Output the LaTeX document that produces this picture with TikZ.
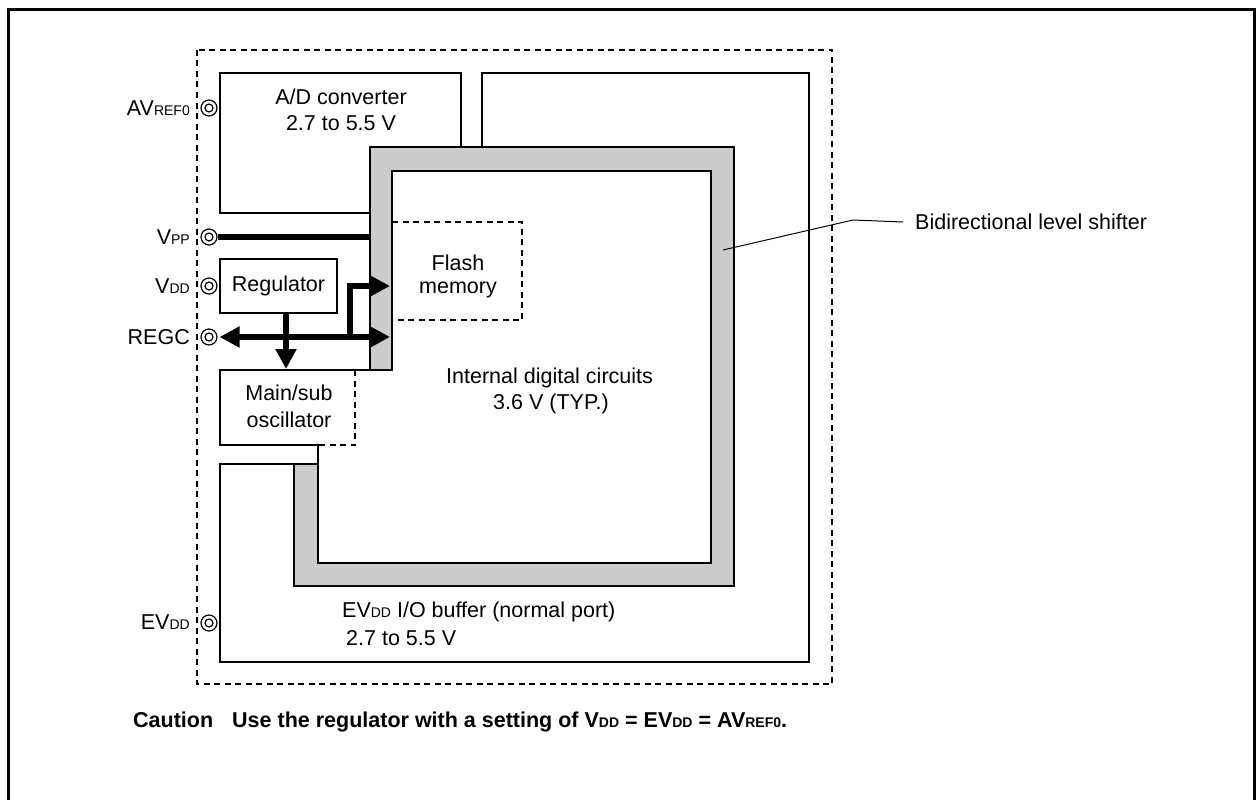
\documentclass[tikz,border=0pt]{standalone}
\usepackage{fontspec}
\setmainfont{Liberation Sans}
\usetikzlibrary{arrows.meta}
\newcommand\sbs[1]{{\fontsize{14}{14}\selectfont #1}}
\definecolor{shiftgray}{HTML}{CCCCCC}
\begin{document}
\begin{tikzpicture}[x=1pt,y=-1pt,
  box/.style={line width=2.6pt,line join=miter},
  dbox/.style={line width=2.6pt,dash pattern=on 6pt off 4.5pt},
  txt/.style={inner sep=0pt,font=\fontsize{21.5}{25}\selectfont},
  pinnode/.style={circle,draw,line width=1.2pt,minimum size=16pt,inner sep=0pt,
     path picture={\draw[line width=1.2pt] (path picture bounding box.center) circle (4pt);}},
  thick line/.style={line width=6pt},
  bigtip/.style={-{Triangle[length=20pt,width=20pt]}},
  bigtips/.style={{Triangle[length=20pt,width=20pt]}-{Triangle[length=20pt,width=20pt]}}
]
\useasboundingbox (0,0) rectangle (1256,800);
% outer frame
\draw[line width=2.6pt] (8.5,830) -- (8.5,9.5) -- (1254.5,9.5) -- (1254.5,830);
% dashed chip boundary
\draw[dbox] (197,50) rectangle (832,684);
% A/D converter
\draw[box] (370,213) -- (220,213) -- (220,73) -- (461,73) -- (461,147);
% I/O buffer outline
\draw[box] (482,147) -- (482,73) -- (809,73) -- (809,662) -- (220,662) -- (220,464) -- (318,464);
% bidirectional level shifter (gray)
\draw[box,fill=shiftgray] (370,370) -- (370,147) -- (734,147) -- (734,586) -- (294,586) -- (294,464)
  -- (318,464) -- (318,563) -- (711,563) -- (711,171) -- (392,171) -- (392,370) -- cycle;
% oscillator
\draw[box] (318,464) -- (318,445) -- (220,445) -- (220,370) -- (370,370);
\draw[dbox] (355,370) -- (355,445) -- (318,445);
% flash memory
\draw[dbox] (392,222) -- (522,222) -- (522,320) -- (392,320);
% regulator
\node[draw,box,minimum width=117pt,minimum height=54pt,inner sep=0pt,
  font=\fontsize{21.5}{25}\selectfont] (reg) at (278.5,286) {Regulator};
% pins
\node[pinnode] (pav) at (209,108) {};
\node[pinnode] (pvpp) at (209,237) {};
\node[pinnode] (pvdd) at (209,286) {};
\node[pinnode] (pregc) at (209,337) {};
\node[pinnode] (pevdd) at (209,623) {};
\node[txt,anchor=east] (lav) at (190,108) {AV\sbs{REF0}};
\node[txt,anchor=east] (lvpp) at (190,237) {V\sbs{PP}};
\node[txt,anchor=east] (lvdd) at (190,286) {V\sbs{DD}};
\node[txt,anchor=east] (lregc) at (190,337) {REGC};
\node[txt,anchor=east] (levdd) at (190,622) {EV\sbs{DD}};
% coordinates for connectors
\coordinate (vppend) at (370,237);
\coordinate (regcend) at (390,337);
\coordinate (flashin) at (390,286);
\coordinate (branch) at (350,337);
\coordinate (regout) at (286,313);
\coordinate (oscin) at (286,369);
% connectors
\draw[thick line] (pvpp.east) -- (vppend);
\draw[thick line,bigtips] ([xshift=2pt]pregc.east) -- (regcend);
\draw[thick line,bigtip] (branch) -- (branch |- flashin) -- (flashin);
\draw[thick line,bigtip] (regout) -- (oscin);
% texts
\node[txt] (ad1) at (341,97) {A/D converter};
\node[txt] (ad2) at (341,123) {2.7 to 5.5 V};
\node[txt] (fl1) at (458,263) {Flash};
\node[txt] (fl2) at (458,290) {memory};
\node[txt] (os1) at (289,393) {Main/sub};
\node[txt] (os2) at (289,420) {oscillator};
\node[txt,anchor=west] (id1) at (446,378) {Internal digital circuits};
\node[txt,anchor=west] (id2) at (493,404) {3.6 V (TYP.)};
\node[txt,anchor=west] (io1) at (342,612) {EV\sbs{DD} I/O buffer (normal port)};
\node[txt,anchor=west] (io2) at (346,638) {2.7 to 5.5 V};
\node[txt,anchor=west] (bls) at (915,222) {Bidirectional level shifter};
\coordinate (blsfoot) at (723,250);
\draw[line width=1pt] (blsfoot) -- (853,220) -- ([xshift=-12pt]bls.west);
\node[txt,anchor=west,font=\fontsize{21.5}{25}\selectfont\bfseries] (caution) at (133,722)
  {Caution\hspace{19pt}Use the regulator with a setting of V\sbs{DD} = EV\sbs{DD} = AV\sbs{REF0}.};
\end{tikzpicture}
\end{document}
